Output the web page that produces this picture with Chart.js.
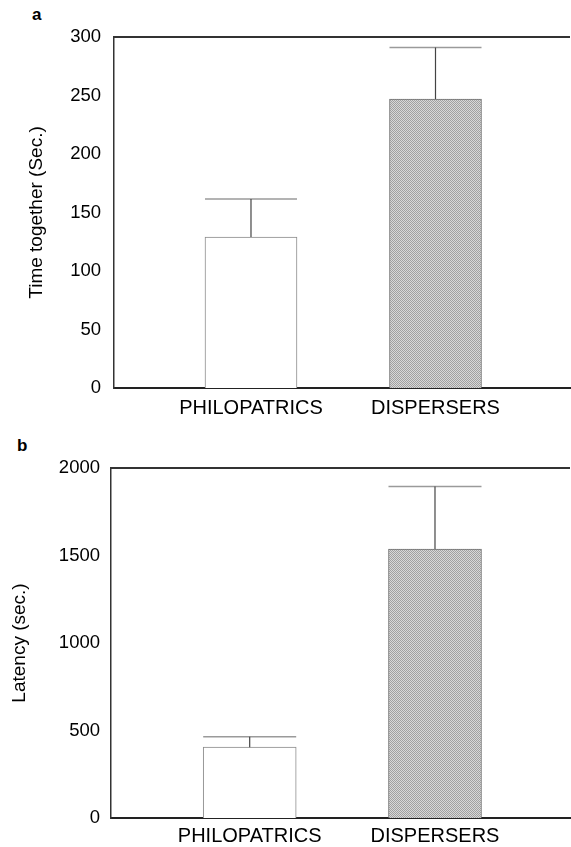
<!DOCTYPE html>
<html>
<head>
<meta charset="utf-8">
<script src="https://cdn.jsdelivr.net/npm/chart.js@4.4.1/dist/chart.umd.min.js"></script>
<style>
  body { margin: 0; background: #fff; width: 571px; height: 847px; position: relative; overflow: hidden;
         font-family: "Liberation Sans", Arial, sans-serif; }
  .box { position: absolute; left: 0; width: 571px; }
  .panel { position: absolute; font-weight: bold; font-size: 17px; line-height: 1; color: #000; }
</style>
</head>
<body>
<div class="panel" style="left:32px; top:6px;">a</div>
<div class="panel" style="left:17px; top:437px;">b</div>
<div class="box" style="top:0; height:430px;"><canvas id="timeChart"></canvas></div>
<div class="box" style="top:430px; height:417px;"><canvas id="latencyChart"></canvas></div>
<script>
// data
const categories = ['PHILOPATRICS', 'DISPERSERS'];
const timeMeans = [129, 247];
const timeSE = [32.5, 44];
const timeTicks = [0, 50, 100, 150, 200, 250, 300];
const latencyMeans = [405, 1537];
const latencySE = [60, 358];
const latencyTicks = [0, 500, 1000, 1500, 2000];

const FONT = '"Liberation Sans", Arial, sans-serif';

// grey stipple fill for the dispersers bar
function stipple() {
    const c = document.createElement('canvas');
    c.width = 2; c.height = 2;
    const g = c.getContext('2d');
    g.fillStyle = '#d8d8d8'; g.fillRect(0, 0, 2, 2);
    g.fillStyle = '#a0a0a0'; g.fillRect(0, 0, 1, 1); g.fillRect(1, 1, 1, 1);
    return g.createPattern(c, 'repeat');
}

// one-sided error bars (mean + SE), cap as wide as the bar
const errorBars = {
    id: 'errorBars',
    afterDatasetsDraw(chart) {
        const ctx = chart.ctx;
        const y = chart.scales.y;
        const ds = chart.data.datasets[0];
        chart.getDatasetMeta(0).data.forEach((bar, i) => {
            const top = y.getPixelForValue(ds.data[i].y + ds.se[i]);
            const half = bar.width / 2;
            ctx.save();
            ctx.strokeStyle = '#9a9a9a';
            ctx.lineWidth = 1.5;
            ctx.beginPath(); ctx.moveTo(bar.x - half, top); ctx.lineTo(bar.x + half, top); ctx.stroke();
            ctx.strokeStyle = '#444';
            ctx.lineWidth = 1.2;
            ctx.beginPath(); ctx.moveTo(bar.x, top); ctx.lineTo(bar.x, bar.y); ctx.stroke();
            ctx.restore();
        });
    }
};

// line along the top of the plot box
const topFrame = {
    id: 'topFrame',
    afterDraw(chart) {
        const {ctx, chartArea: a} = chart;
        ctx.save();
        ctx.strokeStyle = '#333';
        ctx.lineWidth = 2;
        ctx.beginPath(); ctx.moveTo(a.left, a.top); ctx.lineTo(a.right, a.top); ctx.stroke();
        ctx.restore();
    }
};

function makeChart(id, means, se, ticks, yMax, yTitle, s) {
    return new Chart(document.getElementById(id).getContext('2d'), {
        type: 'bar',
        data: {
            datasets: [{
                data: means.map((m, i) => ({x: i, y: m})),
                se: se,
                backgroundColor: ['#ffffff', stipple()],
                borderColor: ['#8a8a8a', '#707070'],
                borderWidth: 1,
                barThickness: s.barWidth
            }]
        },
        options: {
            responsive: true,
            maintainAspectRatio: false,
            animation: false,
            layout: {padding: {top: s.top, left: s.left, right: 1, bottom: 0}},
            plugins: {legend: {display: false}, tooltip: {enabled: false}},
            scales: {
                x: {
                    type: 'linear', min: s.xMin, max: s.xMax, offset: false,
                    grid: {display: false, drawTicks: false, offset: false},
                    border: {display: true, color: '#222', width: 2},
                    afterBuildTicks: sc => { sc.ticks = categories.map((c, i) => ({value: i})); },
                    ticks: {
                        callback: v => categories[v],
                        font: {family: FONT, size: 20}, color: '#000',
                        padding: s.xPad, maxRotation: 0, autoSkip: false
                    },
                    afterFit: sc => { sc.height = s.xHeight; }
                },
                y: {
                    min: 0, max: yMax,
                    grid: {display: false, drawTicks: false},
                    border: {display: true, color: '#333', width: 1.5},
                    afterBuildTicks: sc => { sc.ticks = ticks.map(v => ({value: v})); },
                    ticks: {callback: v => String(v), font: {family: FONT, size: 18.5}, color: '#000', padding: s.yPad},
                    title: {display: true, text: yTitle, color: '#000',
                            font: {family: FONT, size: 19}, padding: {top: 3, bottom: 0}},
                    afterFit: sc => { sc.width = s.yWidth; }
                }
            }
        },
        plugins: [errorBars, topFrame]
    });
}

const timeChart = makeChart('timeChart', timeMeans, timeSE, timeTicks, 300, 'Time together (Sec.)',
    {top: 37, left: 22, yWidth: 92, xHeight: 42, xMin: -0.7425, xMax: 1.729, barWidth: 92, xPad: 8, yPad: 13});

const latencyChart = makeChart('latencyChart', latencyMeans, latencySE, latencyTicks, 2000, 'Latency (sec.)',
    {top: 38, left: 5, yWidth: 106, xHeight: 29, xMin: -0.7485, xMax: 1.7286, barWidth: 93, xPad: 6, yPad: 11});
</script>
</body>
</html>
